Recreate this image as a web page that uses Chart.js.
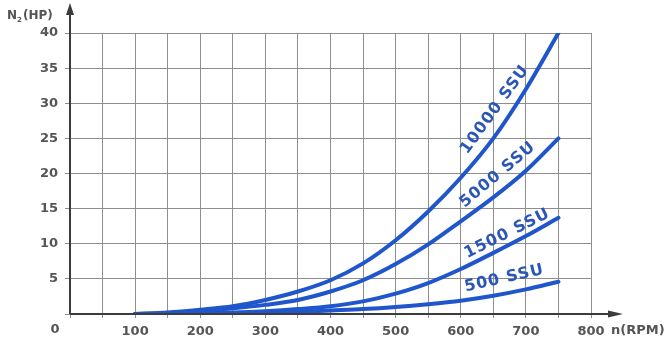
<!DOCTYPE html>
<html>
<head>
<meta charset="utf-8">
<script src="https://cdn.jsdelivr.net/npm/chart.js@4/dist/chart.umd.min.js"></script>
<style>
  html, body { margin: 0; padding: 0; background: #fff; }
  #wrap { width: 666px; height: 343px; position: relative; }
</style>
</head>
<body>
<div id="wrap"><canvas id="c"></canvas></div>
<script>
// Shaft speed (RPM) and power loss (HP) for each oil viscosity
const rpm      = [100, 150, 200, 250, 300, 350, 400, 450, 500, 550, 600, 650, 700, 750];
const hp10000  = [0, 0.2, 0.6, 1.1, 2.0, 3.2, 4.8, 7.2, 10.5, 14.6, 19.4, 25.0, 32.0, 40];
const hp5000   = [0, 0.1, 0.4, 0.8, 1.3, 2.0, 3.2, 4.8, 7.1, 9.9, 13.2, 16.6, 20.4, 25];
const hp1500   = [0, 0, 0.1, 0.2, 0.4, 0.7, 1.1, 1.8, 2.9, 4.4, 6.4, 8.7, 11.1, 13.7];
const hp500    = [0, 0, 0, 0.05, 0.15, 0.3, 0.5, 0.7, 1.0, 1.4, 1.9, 2.6, 3.5, 4.6];
const seriesNames = ['10000 SSU', '5000 SSU', '1500 SSU', '500 SSU'];
const seriesValues = [hp10000, hp5000, hp1500, hp500];

const xMin = 0, xMax = 800, xGridStep = 50, xLabelStep = 100;
const yMin = 0, yMax = 40, yStep = 5;

// Where each curve's name sits (data coordinates) and its slant in degrees
const labelSpots = [
  { x: 652.5, y: 29.1, angle: -54 },
  { x: 657,   y: 19.8, angle: -40 },
  { x: 671.5, y: 11.45, angle: -26.5 },
  { x: 667,   y: 5.05, angle: -12.7 }
];

const curveColor = '#1f56cb';
const labelColor = '#2a56b8';
const gridColor = '#8e8e8e';
const axisColor = '#3c3c3c';
const textColor = '#555555';
const fontFamily = '"DejaVu Sans", Verdana, sans-serif';

const datasets = seriesValues.map((vals, i) => ({
  label: seriesNames[i],
  data: rpm.map((r, k) => ({ x: r, y: vals[k] })),
  borderColor: curveColor,
  borderWidth: 4,
  pointRadius: 0,
  fill: false,
  cubicInterpolationMode: 'monotone',
  borderCapStyle: 'round'
}));

const decorations = {
  id: 'decorations',
  afterDatasetsDraw(chart) {
    const { ctx, chartArea: a, scales: { x, y } } = chart;
    ctx.save();

    // axes with arrow heads
    ctx.strokeStyle = axisColor;
    ctx.fillStyle = axisColor;
    ctx.lineWidth = 2;
    ctx.beginPath();
    ctx.moveTo(a.left, a.bottom);
    ctx.lineTo(a.left, 12);
    ctx.moveTo(a.left, a.bottom);
    ctx.lineTo(612, a.bottom);
    ctx.stroke();
    ctx.beginPath();
    ctx.moveTo(a.left, 3);
    ctx.lineTo(a.left - 4, 15);
    ctx.lineTo(a.left + 4, 15);
    ctx.closePath();
    ctx.fill();
    ctx.beginPath();
    ctx.moveTo(623, a.bottom);
    ctx.lineTo(608, a.bottom - 3.5);
    ctx.lineTo(608, a.bottom + 3.5);
    ctx.closePath();
    ctx.fill();

    // axis titles and origin
    ctx.fillStyle = textColor;
    ctx.textBaseline = 'middle';
    ctx.font = 'bold 13px ' + fontFamily;
    ctx.textAlign = 'center';
    ctx.fillText('0', 55, 330);
    ctx.textAlign = 'left';
    ctx.fillText('n(RPM)', 611, 331);
    ctx.font = 'bold 12px ' + fontFamily;
    ctx.fillText('N', 7, 16);
    const nW = ctx.measureText('N').width;
    ctx.font = 'bold 7px ' + fontFamily;
    ctx.fillText('2', 7 + nW, 20);
    const sW = ctx.measureText('2').width;
    ctx.font = 'bold 12px ' + fontFamily;
    ctx.fillText('(HP)', 7 + nW + sW + 1, 16);

    // curve names along the curves
    ctx.fillStyle = labelColor;
    ctx.font = 'bold 16px ' + fontFamily;
    ctx.letterSpacing = '1px';
    ctx.textAlign = 'center';
    ctx.textBaseline = 'middle';
    labelSpots.forEach((s, i) => {
      ctx.save();
      ctx.translate(x.getPixelForValue(s.x), y.getPixelForValue(s.y));
      ctx.rotate(s.angle * Math.PI / 180);
      ctx.fillText(seriesNames[i], 0, 0);
      ctx.restore();
    });
    ctx.restore();
  }
};

new Chart(document.getElementById('c'), {
  type: 'line',
  data: { datasets },
  options: {
    responsive: true,
    maintainAspectRatio: false,
    animation: false,
    layout: { padding: { top: 33, right: 75, left: 0, bottom: 0 } },
    plugins: { legend: { display: false }, tooltip: { enabled: false } },
    scales: {
      x: {
        type: 'linear',
        min: xMin, max: xMax,
        border: { display: false },
        grid: { color: gridColor, lineWidth: 1, tickLength: 4 },
        ticks: {
          stepSize: xGridStep,
          autoSkip: false,
          maxRotation: 0,
          padding: 6,
          color: textColor,
          font: { family: fontFamily, size: 13, weight: 'bold' },
          callback: v => (v > 0 && v % xLabelStep === 0) ? String(v) : ''
        },
        afterFit: s => { s.height = 29; }
      },
      y: {
        type: 'linear',
        min: yMin, max: yMax,
        border: { display: false },
        grid: { color: gridColor, lineWidth: 1, tickLength: 5 },
        ticks: {
          stepSize: yStep,
          padding: 7,
          color: textColor,
          font: { family: fontFamily, size: 13, weight: 'bold' },
          callback: v => v > 0 ? String(v) : ''
        },
        afterFit: s => { s.width = 70; }
      }
    }
  },
  plugins: [decorations]
});
</script>
</body>
</html>
